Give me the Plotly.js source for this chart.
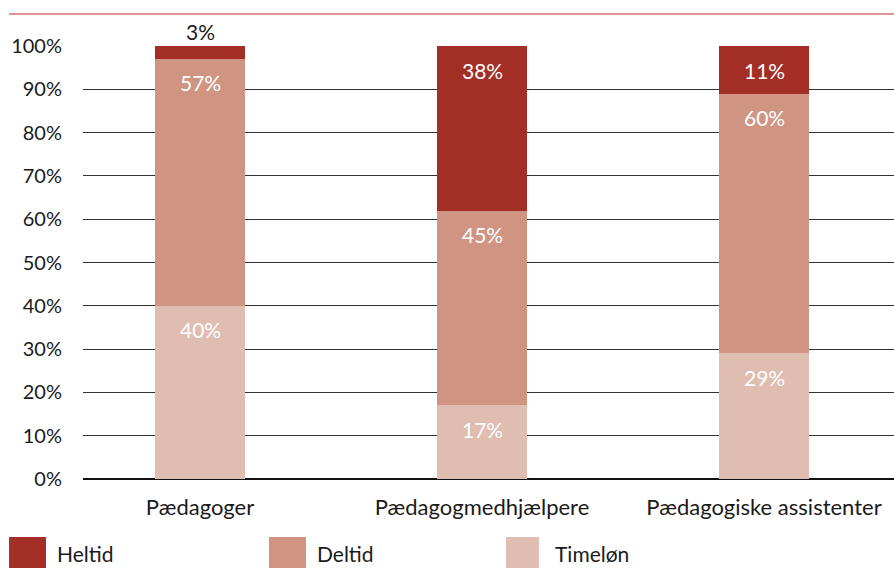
<!DOCTYPE html>
<html><head><meta charset="utf-8">
<script src="https://cdn.plot.ly/plotly-3.0.1.min.js"></script>
<style>body{margin:0;padding:0;background:#fff}#c{width:894px;height:568px}</style>
</head><body><div id="c"></div>
<script>
const categories = ["Pædagoger", "Pædagogmedhjælpere", "Pædagogiske assistenter"];
const timelon = [40, 17, 29];
const deltid = [57, 45, 60];
const heltid = [3, 38, 11];
const seriesNames = ["Timeløn", "Deltid", "Heltid"];
const yTickVals = [0,10,20,30,40,50,60,70,80,90,100];
const yTickText = ["0%","10%","20%","30%","40%","50%","60%","70%","80%","90%","100%"];

const colors = {"Heltid":"#a32e26","Deltid":"#d09482","Timeløn":"#e0bdb1"};
const FONT = "Lato, 'Noto Sans', sans-serif";
const seriesVals = [timelon, deltid, heltid];

const traces = seriesNames.map((n,i)=>({
  type:'bar', name:n, x:categories, y:seriesVals[i],
  marker:{color:colors[n], line:{width:0}}, width:0.32, hoverinfo:'skip'
}));

const annotations = [];
categories.forEach((c,ci)=>{
  let base = 0;
  seriesVals.forEach((vals,si)=>{
    const top = base + vals[ci];
    const outside = vals[ci] < 6;
    annotations.push({
      x:c, y:top, xref:'x', yref:'y', text: vals[ci]+'%', showarrow:false,
      yanchor:'middle', yshift: outside ? 15 : -24,
      font:{family:FONT, size:21, color: outside ? '#1a1a1a' : '#ffffff'}
    });
    base = top;
  });
});

// custom legend
const legendOrder = ["Heltid","Deltid","Timeløn"];
const legX = [[-0.0912,-0.0456,-0.0345],[0.2293,0.275,0.286],[0.5216,0.5622,0.5795]];
const shapes = [{type:'line', xref:'paper', yref:'paper', x0:-0.0912, x1:1, y0:1.074, y1:1.074, line:{color:'#d4736c', width:1.5}}];
legendOrder.forEach((n,i)=>{
  shapes.push({type:'rect', xref:'paper', yref:'paper', x0:legX[i][0], x1:legX[i][1], y0:-0.2055, y1:-0.134, fillcolor:colors[n], line:{width:0}});
  annotations.push({xref:'paper', yref:'paper', x:legX[i][2], y:-0.172, xanchor:'left', yanchor:'middle', text:n, showarrow:false, font:{family:FONT, size:21, color:'#1a1a1a'}});
});

const layout = {
  width:894, height:568, margin:{l:83, r:0, t:46, b:89},
  paper_bgcolor:'#fff', plot_bgcolor:'#fff',
  barmode:'stack', showlegend:false,
  font:{family:FONT, size:20, color:'#1a1a1a'},
  xaxis:{type:'category', range:[-0.415,2.461], showgrid:false, zeroline:false, showline:false, ticks:'', ticklabelstandoff:13, tickfont:{family:FONT,size:22,color:'#1a1a1a'}},
  yaxis:{range:[0,100], tickvals:yTickVals, ticktext:yTickText, showgrid:true, gridcolor:'#333', gridwidth:1, zeroline:true, zerolinecolor:'#111', zerolinewidth:1.5, showline:false, ticks:'', ticklabelstandoff:20, tickfont:{family:FONT,size:20,color:'#1a1a1a'}},
  shapes:shapes, annotations:annotations
};
Plotly.newPlot('c', traces, layout, {staticPlot:true, displayModeBar:false});
</script></body></html>
